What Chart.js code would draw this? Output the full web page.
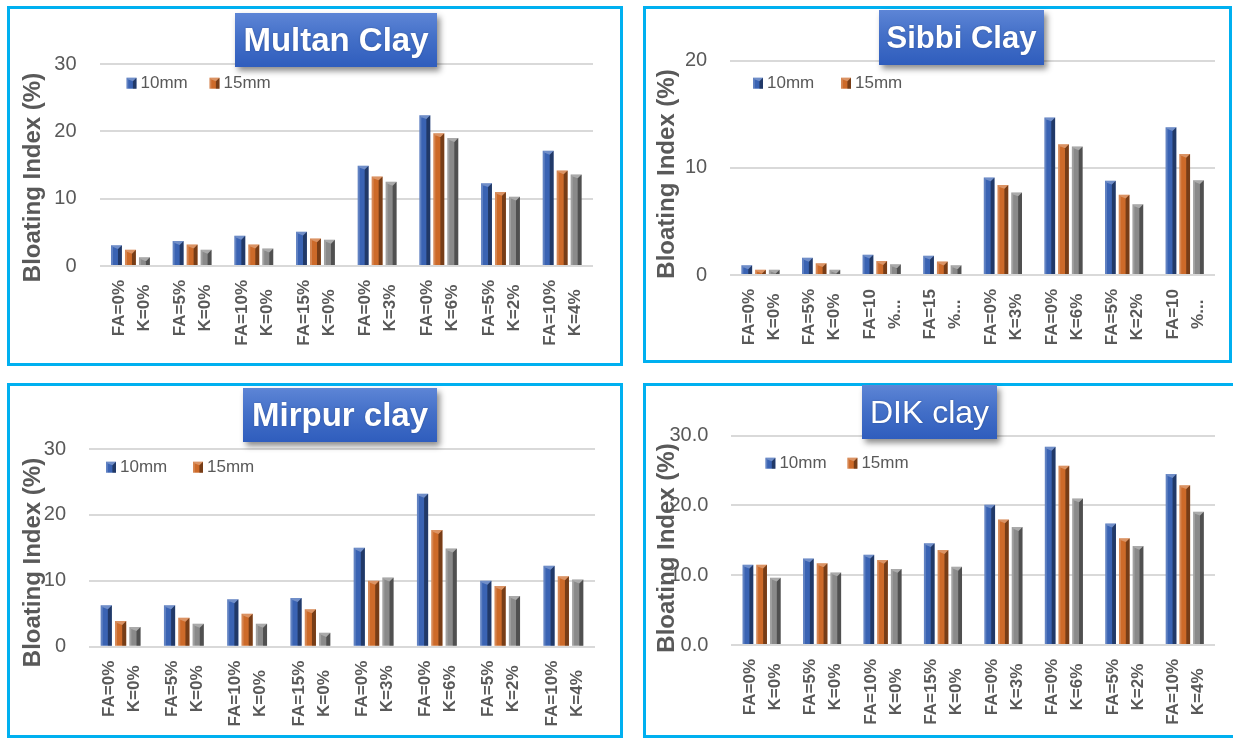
<!DOCTYPE html>
<html>
<head>
<meta charset="utf-8">
<script src="https://cdn.jsdelivr.net/npm/chart.js@4.4.1/dist/chart.umd.min.js"></script>
<style>
  html, body { margin: 0; padding: 0; background: #ffffff; }
  body { width: 1233px; height: 738px; position: relative; overflow: hidden;
         font-family: "Liberation Sans", Arial, sans-serif; }
  .frame { position: absolute; border: 3px solid #00b0f0; box-sizing: border-box; }
  .pane { position: absolute; }
  .pane canvas { display: block; }
  .badge { position: absolute; color: #ffffff; display: flex; align-items: center; justify-content: center;
           background: linear-gradient(to bottom, #5d85d6 0%, #4470c8 45%, #2f5dbd 100%);
           box-shadow: 3px 4px 6px rgba(0, 0, 0, 0.45); white-space: nowrap; z-index: 5;
           text-shadow: 0 0 2px rgba(0, 0, 0, 0.25); }
</style>
</head>
<body>

<div class="frame" style="left:7px; top:6px; width:616px; height:360px;"></div>
<div class="frame" style="left:643px; top:6px; width:589px; height:357px;"></div>
<div class="frame" style="left:7px; top:383px; width:616px; height:355px;"></div>
<div class="frame" style="left:643px; top:383px; width:600px; height:355px;"></div>

<div class="pane" style="left:0px; top:0px;"><canvas id="cMultan" width="630" height="370"></canvas></div>
<div class="pane" style="left:630px; top:0px;"><canvas id="cSibbi" width="603" height="370"></canvas></div>
<div class="pane" style="left:0px; top:370px;"><canvas id="cMirpur" width="630" height="368"></canvas></div>
<div class="pane" style="left:630px; top:370px;"><canvas id="cDik" width="603" height="368"></canvas></div>

<div class="badge" style="left:235px; top:13px; width:202px; height:54px; font-weight:bold; font-size:33px;">Multan Clay</div>
<div class="badge" style="left:879px; top:10px; width:165px; height:55px; font-weight:bold; font-size:31px;">Sibbi Clay</div>
<div class="badge" style="left:243px; top:388px; width:194px; height:54px; font-weight:bold; font-size:33px;">Mirpur clay</div>
<div class="badge" style="left:862px; top:385px; width:135px; height:54px; font-weight:normal; font-size:32px;">DIK clay</div>

<script>
// ---- data -------------------------------------------------------------
const seriesNames = ['10mm', '15mm', ''];

const mixLabels = [
  ['FA=0%', 'K=0%'], ['FA=5%', 'K=0%'], ['FA=10%', 'K=0%'], ['FA=15%', 'K=0%'],
  ['FA=0%', 'K=3%'], ['FA=0%', 'K=6%'], ['FA=5%', 'K=2%'], ['FA=10%', 'K=4%']
];
const sibbiLabels = [
  ['FA=0%', 'K=0%'], ['FA=5%', 'K=0%'], ['FA=10', '%...'], ['FA=15', '%...'],
  ['FA=0%', 'K=3%'], ['FA=0%', 'K=6%'], ['FA=5%', 'K=2%'], ['FA=10', '%...']
];

const multan10 = [3.1, 3.7, 4.5, 5.1, 14.9, 22.4, 12.3, 17.1];
const multan15 = [2.4, 3.2, 3.2, 4.1, 13.3, 19.7, 11.0, 14.2];
const multan3  = [1.3, 2.4, 2.6, 3.9, 12.5, 19.0, 10.3, 13.6];

const sibbi10 = [0.9, 1.6, 1.9, 1.8, 9.1, 14.7, 8.8, 13.8];
const sibbi15 = [0.5, 1.1, 1.3, 1.25, 8.4, 12.2, 7.5, 11.3];
const sibbi3  = [0.5, 0.5, 1.0, 0.9, 7.7, 12.0, 6.6, 8.85];

const mirpur10 = [6.3, 6.3, 7.2, 7.4, 15.0, 23.2, 10.0, 12.3];
const mirpur15 = [3.9, 4.4, 5.0, 5.7, 10.0, 17.7, 9.2, 10.7];
const mirpur3  = [3.0, 3.5, 3.5, 2.1, 10.5, 14.9, 7.7, 10.2];

const dik10 = [11.5, 12.4, 12.95, 14.6, 20.1, 28.4, 17.4, 24.5];
const dik15 = [11.5, 11.7, 12.2, 13.6, 18.0, 25.7, 15.3, 22.9];
const dik3  = [9.65, 10.4, 10.9, 11.2, 16.9, 21.0, 14.2, 19.1];

// ---- styling ----------------------------------------------------------
const FONT = '"Liberation Sans", Arial, sans-serif';
const INK = '#595959';
const BAR_COLORS = ['#3a63b3', '#cd6a29', '#8a8a8a'];

// bevelled look drawn over a rectangle (bars and legend keys)
function bevel(ctx, l, t, r, b) {
  const w = r - l, h = b - t;
  if (h <= 0 || w <= 0) return;
  const e = Math.min(w * 0.36, h);
  const s = Math.min(w * 0.18, h);
  ctx.save();
  ctx.fillStyle = 'rgba(0,0,0,0.42)';
  ctx.beginPath();
  ctx.moveTo(r, t); ctx.lineTo(r, b); ctx.lineTo(r - e, b); ctx.lineTo(r - e, t + e);
  ctx.closePath(); ctx.fill();
  ctx.fillStyle = 'rgba(255,255,255,0.2)';
  ctx.beginPath();
  ctx.moveTo(l, t); ctx.lineTo(l + s, t + s); ctx.lineTo(l + s, b); ctx.lineTo(l, b);
  ctx.closePath(); ctx.fill();
  ctx.fillStyle = 'rgba(255,255,255,0.28)';
  ctx.beginPath();
  ctx.moveTo(l, t); ctx.lineTo(r, t); ctx.lineTo(r - e, t + e); ctx.lineTo(l + s, t + s);
  ctx.closePath(); ctx.fill();
  ctx.restore();
}

const bevelPlugin = {
  id: 'bevel',
  afterDatasetsDraw(chart) {
    const ctx = chart.ctx;
    chart.data.datasets.forEach((ds, i) => {
      const meta = chart.getDatasetMeta(i);
      if (meta.hidden) return;
      meta.data.forEach(bar => {
        const p = bar.getProps(['x', 'y', 'base', 'width'], true);
        bevel(ctx, p.x - p.width / 2, Math.min(p.y, p.base), p.x + p.width / 2, Math.max(p.y, p.base));
      });
    });
  }
};

// two-line category captions, rotated, lines centred within each block
const catLabels = {
  id: 'catLabels',
  afterDraw(chart, args, opts) {
    const xs = chart.scales.x, ctx = chart.ctx;
    const y0 = chart.chartArea.bottom + opts.gap;
    ctx.save();
    ctx.font = 'bold 17px ' + FONT;
    ctx.fillStyle = INK;
    ctx.textAlign = 'right';
    ctx.textBaseline = 'middle';
    chart.data.labels.forEach((lines, i) => {
      const cx = xs.getPixelForValue(i);
      const widths = lines.map(s => ctx.measureText(s).width);
      const maxW = Math.max.apply(null, widths);
      lines.forEach((s, j) => {
        const lx = cx + (j - (lines.length - 1) / 2) * opts.lineGap + opts.shift;
        ctx.save();
        ctx.translate(lx, y0 + (maxW - widths[j]) / 2);
        ctx.rotate(-Math.PI / 2);
        ctx.fillText(s, 0, 0);
        ctx.restore();
      });
    });
    ctx.restore();
  }
};

// vertical axis caption
const yCaption = {
  id: 'yCaption',
  afterDraw(chart, args, opts) {
    const ctx = chart.ctx;
    ctx.save();
    ctx.font = 'bold 24px ' + FONT;
    ctx.fillStyle = INK;
    ctx.textAlign = 'center';
    ctx.textBaseline = 'middle';
    ctx.translate(opts.x, opts.y);
    ctx.rotate(-Math.PI / 2);
    ctx.fillText(opts.text, 0, 0);
    ctx.restore();
  }
};

// series key placed inside the plot
const seriesKey = {
  id: 'seriesKey',
  afterDraw(chart, args, opts) {
    const ctx = chart.ctx;
    let x = opts.x;
    ctx.save();
    ctx.font = '17px ' + FONT;
    ctx.textBaseline = 'middle';
    ctx.textAlign = 'left';
    chart.data.datasets.forEach(ds => {
      if (!ds.label) return;
      ctx.fillStyle = ds.backgroundColor;
      ctx.fillRect(x, opts.y - 5, 10, 11);
      bevel(ctx, x, opts.y - 5, x + 10, opts.y + 6);
      ctx.fillStyle = INK;
      ctx.fillText(ds.label, x + 14, opts.y + 1);
      x += opts.step;
    });
    ctx.restore();
  }
};

function buildChart(id, labels, a, b, c, cfg) {
  const canvas = document.getElementById(id);
  const W = canvas.width, H = canvas.height;
  return new Chart(canvas, {
    type: 'bar',
    data: {
      labels: labels,
      datasets: [a, b, c].map((vals, k) => ({
        label: seriesNames[k],
        data: vals,
        backgroundColor: BAR_COLORS[k],
        borderWidth: 0
      }))
    },
    options: {
      responsive: false,
      animation: false,
      devicePixelRatio: 1,
      layout: { padding: { left: 0, top: cfg.top, right: W - cfg.right, bottom: 0 } },
      datasets: { bar: { categoryPercentage: 0.68, barPercentage: 0.78 } },
      plugins: {
        legend: { display: false },
        tooltip: { enabled: false },
        title: { display: false },
        catLabels: { gap: 14, lineGap: 25, shift: 1 },
        yCaption: { text: 'Bloating Index (%)', x: cfg.capX, y: cfg.capY },
        seriesKey: { x: cfg.keyX, y: cfg.keyY, step: cfg.keyStep }
      },
      scales: {
        x: {
          ticks: { display: false },
          grid: { display: false },
          border: { display: false },
          afterFit(s) { s.height = H - cfg.bottom; }
        },
        y: {
          min: 0, max: cfg.max,
          ticks: {
            stepSize: 10, padding: 23, color: INK,
            font: { size: 20, family: FONT },
            callback: cfg.fmt || (v => String(v))
          },
          grid: { color: '#d9d9d9', lineWidth: 2, drawTicks: false },
          border: { display: false },
          afterFit(s) { s.width = cfg.left; }
        }
      }
    },
    plugins: [bevelPlugin, catLabels, yCaption, seriesKey]
  });
}

buildChart('cMultan', mixLabels, multan10, multan15, multan3, {
  left: 99.6, right: 593, top: 64, bottom: 266, max: 30,
  capX: 33.6, capY: 177.5, keyX: 126.5, keyY: 82.7, keyStep: 83
});
buildChart('cSibbi', sibbiLabels, sibbi10, sibbi15, sibbi3, {
  left: 100.2, right: 585, top: 60.7, bottom: 275, max: 20,
  capX: 37, capY: 174, keyX: 123, keyY: 82.7, keyStep: 88
});
buildChart('cMirpur', mixLabels, mirpur10, mirpur15, mirpur3, {
  left: 89, right: 595, top: 79, bottom: 276.7, max: 30,
  capX: 33.6, capY: 192.5, keyX: 106, keyY: 96.7, keyStep: 87
});
buildChart('cDik', mixLabels, dik10, dik15, dik3, {
  left: 101.4, right: 585, top: 65.7, bottom: 275, max: 30,
  capX: 37, capY: 178, keyX: 135.4, keyY: 92.7, keyStep: 82,
  fmt: v => Number(v).toFixed(1)
});
</script>
</body>
</html>
